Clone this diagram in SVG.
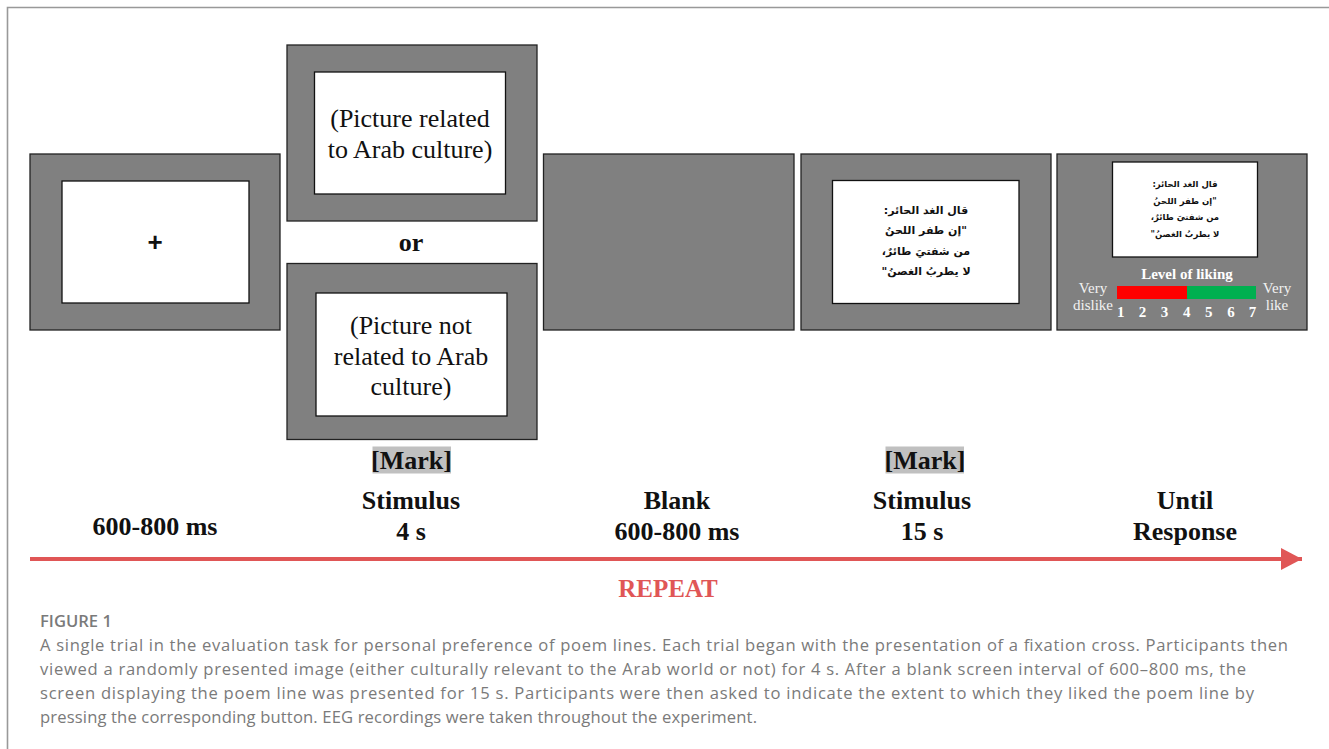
<svg xmlns="http://www.w3.org/2000/svg" width="1329" height="749" viewBox="0 0 1329 749">
<style>
.scr{fill:#808080;stroke:#222;stroke-width:1.3}
.inner{fill:#fff;stroke:#111;stroke-width:1.3}
.tn{font-family:"Liberation Serif",serif;font-size:26px;fill:#111;text-anchor:middle}
.tb{font-family:"Liberation Serif",serif;font-size:26px;font-weight:bold;fill:#111;text-anchor:middle}
.ar{font-family:"DejaVu Sans",sans-serif;font-weight:bold;fill:#111;text-anchor:middle}
.wt{font-family:"Liberation Serif",serif;font-size:15px;fill:#f2f2f2;text-anchor:middle}
.wb{font-family:"Liberation Serif",serif;font-size:15px;font-weight:bold;fill:#fff;text-anchor:middle}
.cap{font-family:"Open Sans",sans-serif;font-size:16.6px;fill:#7a7a7a}
.mark{fill:#c0c0c0}
</style>
<defs>
<marker id="ah" markerUnits="userSpaceOnUse" markerWidth="24" markerHeight="24" refX="21" refY="11" orient="auto">
<path d="M0,0 L21,11 L0,22 Z" fill="#e05656"/>
</marker>
</defs>
<rect width="1329" height="749" fill="#fff"/>
<path d="M7.5,749 V7.5 H1329" fill="none" stroke="#999" stroke-width="1.6"/>

<g id="fixation">
<rect class="scr" x="30" y="154" width="250" height="176"/>
<rect class="inner" x="62" y="181" width="187" height="122"/>
<text x="155" y="251" font-family="Liberation Sans,sans-serif" font-size="26" font-weight="bold" text-anchor="middle" fill="#111">+</text>
</g>

<g id="stim-related">
<rect class="scr" x="287" y="45" width="250" height="176"/>
<rect class="inner" x="314.5" y="72" width="191" height="122"/>
<text class="tn" x="410" y="127">(Picture related</text>
<text class="tn" x="410" y="158">to Arab culture)</text>
</g>

<text class="tb" x="411" y="251">or</text>

<g id="stim-notrelated">
<rect class="scr" x="287" y="263.5" width="250" height="176"/>
<rect class="inner" x="316" y="293" width="191" height="123"/>
<text class="tn" x="411" y="334">(Picture not</text>
<text class="tn" x="411" y="365">related to Arab</text>
<text class="tn" x="411" y="395">culture)</text>
</g>

<g id="blank">
<rect class="scr" x="543.5" y="154" width="250.5" height="176"/>
</g>

<g id="poem">
<rect class="scr" x="801" y="154" width="250" height="176"/>
<rect class="inner" x="832.5" y="180.5" width="186.5" height="123"/>
<text class="ar" x="926" y="214" font-size="11" direction="rtl">قال الغد الحائر:</text>
<text class="ar" x="926" y="234" font-size="11" direction="rtl">"إن طفر اللحنُ</text>
<text class="ar" x="926" y="255" font-size="11" direction="rtl">من شفتيَ طائرٌ،</text>
<text class="ar" x="926" y="275" font-size="11" direction="rtl">لا يطربُ الغصنُ"</text>
</g>

<g id="response">
<rect class="scr" x="1057" y="154" width="250" height="176"/>
<rect class="inner" x="1112.5" y="162" width="145" height="95"/>
<text class="ar" x="1185" y="187" font-size="8.5" direction="rtl">قال الغد الحائر:</text>
<text class="ar" x="1185" y="204" font-size="8.5" direction="rtl">"إن طفر اللحنُ</text>
<text class="ar" x="1185" y="220" font-size="8.5" direction="rtl">من شفتيَ طائرٌ،</text>
<text class="ar" x="1185" y="237" font-size="8.5" direction="rtl">لا يطربُ الغصنُ"</text>
<text class="wb" x="1187" y="279">Level of liking</text>
<rect x="1117" y="286" width="70" height="13" fill="#ff0000"/>
<rect x="1187" y="286" width="69" height="13" fill="#00b050"/>
<text class="wt" x="1093" y="293">Very</text>
<text class="wt" x="1093" y="310">dislike</text>
<text class="wt" x="1277" y="293">Very</text>
<text class="wt" x="1277" y="310">like</text>
<text class="wb" x="1120.7" y="317">1</text>
<text class="wb" x="1142.5" y="317">2</text>
<text class="wb" x="1164.5" y="317">3</text>
<text class="wb" x="1186.7" y="317">4</text>
<text class="wb" x="1208.7" y="317">5</text>
<text class="wb" x="1231" y="317">6</text>
<text class="wb" x="1252.5" y="317">7</text>
</g>

<g id="labels">
<rect class="mark" x="372.5" y="446.5" width="78.5" height="27"/>
<text class="tb" x="411.5" y="469">[Mark]</text>
<rect class="mark" x="885.5" y="446.5" width="78.5" height="27"/>
<text class="tb" x="925" y="469">[Mark]</text>
<text class="tb" x="155" y="535">600-800 ms</text>
<text class="tb" x="411" y="509">Stimulus</text>
<text class="tb" x="411" y="540">4 s</text>
<text class="tb" x="677" y="509">Blank</text>
<text class="tb" x="677" y="540">600-800 ms</text>
<text class="tb" x="922" y="509">Stimulus</text>
<text class="tb" x="922" y="540">15 s</text>
<text class="tb" x="1185" y="509">Until</text>
<text class="tb" x="1185" y="540">Response</text>
</g>

<g id="connectors">
<line x1="30" y1="559" x2="1302" y2="559" stroke="#e05656" stroke-width="4.2" marker-end="url(#ah)"/>
</g>
<text x="668" y="597" font-family="Liberation Serif,serif" font-size="25" font-weight="bold" fill="#e05656" text-anchor="middle">REPEAT</text>

<g id="caption">
<text class="cap" x="40" y="627" font-size="13" font-weight="600" fill="#8a8a8a">FIGURE 1</text>
<text class="cap" x="40" y="651" textLength="1248" lengthAdjust="spacing">A single trial in the evaluation task for personal preference of poem lines. Each trial began with the presentation of a fixation cross. Participants then</text>
<text class="cap" x="40" y="675" textLength="1206" lengthAdjust="spacing">viewed a randomly presented image (either culturally relevant to the Arab world or not) for 4 s. After a blank screen interval of 600–800 ms, the</text>
<text class="cap" x="40" y="699" textLength="1214" lengthAdjust="spacing">screen displaying the poem line was presented for 15 s. Participants were then asked to indicate the extent to which they liked the poem line by</text>
<text class="cap" x="40" y="723" textLength="717" lengthAdjust="spacing">pressing the corresponding button. EEG recordings were taken throughout the experiment.</text>
</g>
</svg>
